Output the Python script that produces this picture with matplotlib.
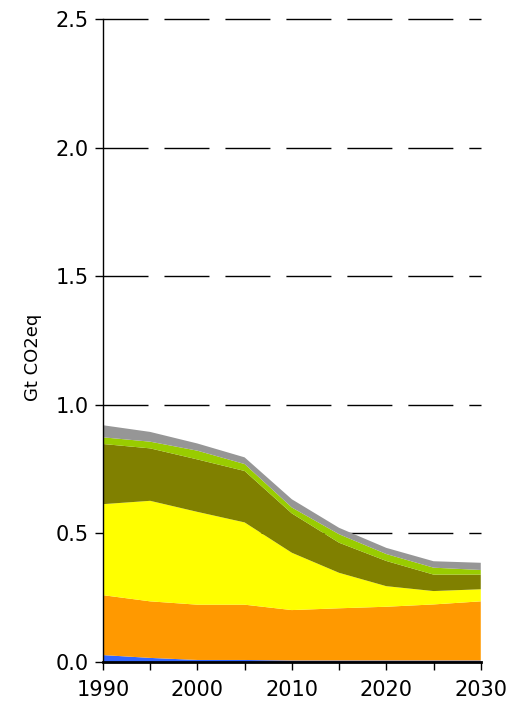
import matplotlib
matplotlib.use("Agg")
import matplotlib.pyplot as plt
import numpy as np

years = [1990, 1995, 2000, 2005, 2010, 2015, 2020, 2025, 2030]

# emissions by source, Gt CO2eq (stacked bottom to top)
blue = [0.027, 0.016, 0.008, 0.008, 0.006, 0.006, 0.006, 0.006, 0.006]
orange = [0.233, 0.220, 0.215, 0.215, 0.196, 0.203, 0.209, 0.218, 0.230]
yellow = [0.354, 0.391, 0.361, 0.320, 0.223, 0.138, 0.080, 0.052, 0.047]
olive = [0.234, 0.204, 0.204, 0.200, 0.153, 0.117, 0.098, 0.064, 0.057]
green = [0.026, 0.026, 0.034, 0.027, 0.023, 0.033, 0.027, 0.027, 0.018]
gray = [0.047, 0.038, 0.028, 0.026, 0.032, 0.025, 0.024, 0.025, 0.028]

colors = ["#3366ff", "#ff9900", "#ffff00", "#808000", "#99cc00", "#969696"]

fig = plt.figure(figsize=(5.12, 7.13), dpi=100)
ax = fig.add_axes([0.201, 0.0715, 0.738, 0.9015])

ax.stackplot(years, blue, orange, yellow, olive, green, gray, colors=colors,
             linewidth=0, zorder=2)

ax.set_xlim(1990, 2030)
ax.set_ylim(0, 2.5)
ax.set_yticks(np.arange(0, 2.51, 0.5))
ax.set_yticklabels(["0.0", "0.5", "1.0", "1.5", "2.0", "2.5"])
ax.set_xticks(range(1990, 2031, 5))
ax.set_xticklabels([str(y) if y % 10 == 0 else "" for y in range(1990, 2031, 5)])

for v in np.arange(0.5, 2.51, 0.5):
    ax.axhline(v, color="black", lw=1.0, dashes=(32.4, 11.5), zorder=1,
               clip_on=False)

ax.spines["top"].set_visible(False)
ax.spines["right"].set_visible(False)
ax.spines["left"].set_linewidth(1.0)
ax.spines["bottom"].set_linewidth(2.0)
ax.spines["bottom"].set_zorder(3)
ax.tick_params(direction="out", length=6, width=1, labelsize=15, pad=4)
ax.tick_params(axis="x", pad=7)

ax.set_ylabel("Gt CO2eq", fontsize=13)
ax.yaxis.set_label_coords(-0.162, 0.474)

fig.savefig("out.png", dpi=100)
